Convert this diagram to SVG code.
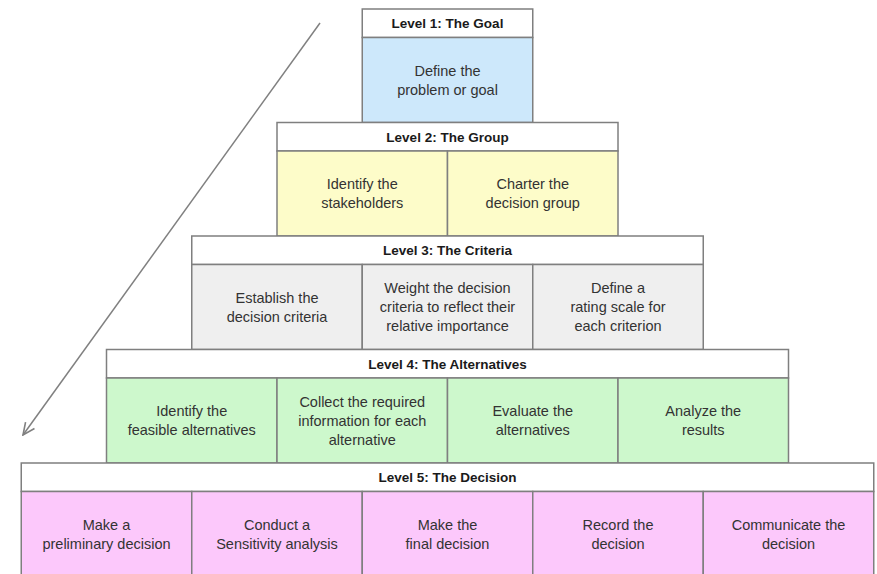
<svg xmlns="http://www.w3.org/2000/svg" width="877" height="574" viewBox="0 0 877 574">
<defs>
<marker id="arr" viewBox="0 0 14 14" refX="13" refY="7" markerWidth="14" markerHeight="14" markerUnits="userSpaceOnUse" orient="auto">
<path d="M1,1.5 L13,7 L1,12.5" fill="none" stroke="#808080" stroke-width="1.6"/>
</marker>
<style>
.hd{fill:#ffffff;stroke:#7f7f7f;stroke-width:1.5}
.c{stroke:#7f7f7f;stroke-width:1.5}
.l1{fill:#cde8fb}.l2{fill:#fdfcc9}.l3{fill:#efefef}.l4{fill:#cdf8cc}.l5{fill:#fcc8fb}
.ht{font-family:"Liberation Sans",Arial,sans-serif;font-size:13.5px;font-weight:bold;fill:#1a1a1a;text-anchor:middle}
.t{font-family:"Liberation Sans",Arial,sans-serif;font-size:14.5px;fill:#333333;text-anchor:middle}
.con{stroke:#808080;stroke-width:1.5;fill:none}
</style>
</defs>
<rect width="877" height="574" fill="#ffffff"/>

<g id="level1">
<rect class="hd" x="362.25" y="9" width="170.5" height="28.5"/>
<text class="ht" x="447.5" y="28">Level 1: The Goal</text>
<g id="goal">
<rect class="c l1" x="362.25" y="37.5" width="170.5" height="85"/>
<text class="t" x="447.5" y="75.5">Define the</text>
<text class="t" x="447.5" y="94.5">problem or goal</text>
</g>
</g>

<g id="level2">
<rect class="hd" x="277" y="122.5" width="341" height="28.5"/>
<text class="ht" x="447.5" y="141.5">Level 2: The Group</text>
<g id="stakeholders">
<rect class="c l2" x="277" y="151" width="170.5" height="85"/>
<text class="t" x="362.25" y="189">Identify the</text>
<text class="t" x="362.25" y="208">stakeholders</text>
</g>
<g id="charter">
<rect class="c l2" x="447.5" y="151" width="170.5" height="85"/>
<text class="t" x="532.75" y="189">Charter the</text>
<text class="t" x="532.75" y="208">decision group</text>
</g>
</g>

<g id="level3">
<rect class="hd" x="191.75" y="236" width="511.5" height="28.5"/>
<text class="ht" x="447.5" y="255">Level 3: The Criteria</text>
<g id="establish">
<rect class="c l3" x="191.75" y="264.5" width="170.5" height="85"/>
<text class="t" x="277" y="302.5">Establish the</text>
<text class="t" x="277" y="321.5">decision criteria</text>
</g>
<g id="weight">
<rect class="c l3" x="362.25" y="264.5" width="170.5" height="85"/>
<text class="t" x="447.5" y="293">Weight the decision</text>
<text class="t" x="447.5" y="312">criteria to reflect their</text>
<text class="t" x="447.5" y="331">relative importance</text>
</g>
<g id="rating">
<rect class="c l3" x="532.75" y="264.5" width="170.5" height="85"/>
<text class="t" x="618" y="293">Define a</text>
<text class="t" x="618" y="312">rating scale for</text>
<text class="t" x="618" y="331">each criterion</text>
</g>
</g>

<g id="level4">
<rect class="hd" x="106.5" y="349.5" width="682" height="28.5"/>
<text class="ht" x="447.5" y="368.5">Level 4: The Alternatives</text>
<g id="feasible">
<rect class="c l4" x="106.5" y="378" width="170.5" height="85"/>
<text class="t" x="191.75" y="416">Identify the</text>
<text class="t" x="191.75" y="435">feasible alternatives</text>
</g>
<g id="collect">
<rect class="c l4" x="277" y="378" width="170.5" height="85"/>
<text class="t" x="362.25" y="406.5">Collect the required</text>
<text class="t" x="362.25" y="425.5">information for each</text>
<text class="t" x="362.25" y="444.5">alternative</text>
</g>
<g id="evaluate">
<rect class="c l4" x="447.5" y="378" width="170.5" height="85"/>
<text class="t" x="532.75" y="416">Evaluate the</text>
<text class="t" x="532.75" y="435">alternatives</text>
</g>
<g id="analyze">
<rect class="c l4" x="618" y="378" width="170.5" height="85"/>
<text class="t" x="703.25" y="416">Analyze the</text>
<text class="t" x="703.25" y="435">results</text>
</g>
</g>

<g id="level5">
<rect class="hd" x="21.25" y="463" width="852.5" height="28.5"/>
<text class="ht" x="447.5" y="482">Level 5: The Decision</text>
<g id="preliminary">
<rect class="c l5" x="21.25" y="491.5" width="170.5" height="85"/>
<text class="t" x="106.5" y="529.5">Make a</text>
<text class="t" x="106.5" y="548.5">preliminary decision</text>
</g>
<g id="sensitivity">
<rect class="c l5" x="191.75" y="491.5" width="170.5" height="85"/>
<text class="t" x="277" y="529.5">Conduct a</text>
<text class="t" x="277" y="548.5">Sensitivity analysis</text>
</g>
<g id="final">
<rect class="c l5" x="362.25" y="491.5" width="170.5" height="85"/>
<text class="t" x="447.5" y="529.5">Make the</text>
<text class="t" x="447.5" y="548.5">final decision</text>
</g>
<g id="record">
<rect class="c l5" x="532.75" y="491.5" width="170.5" height="85"/>
<text class="t" x="618" y="529.5">Record the</text>
<text class="t" x="618" y="548.5">decision</text>
</g>
<g id="communicate">
<rect class="c l5" x="703.25" y="491.5" width="170.5" height="85"/>
<text class="t" x="788.5" y="529.5">Communicate the</text>
<text class="t" x="788.5" y="548.5">decision</text>
</g>
</g>

<g id="connectors">
<line class="con" x1="320" y1="23" x2="23" y2="435" marker-end="url(#arr)"/>
</g>
</svg>
